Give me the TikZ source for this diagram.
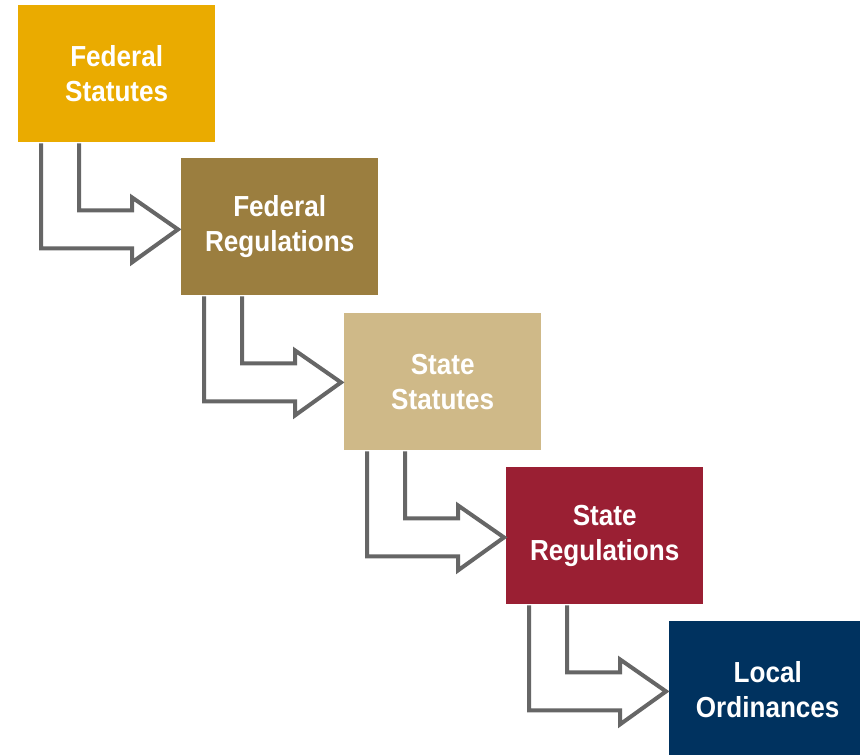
\documentclass[tikz,border=0pt]{standalone}
\usepackage{fontspec}
\setmainfont[FakeStretch=0.9]{Liberation Sans}
\usetikzlibrary{calc}
\definecolor{cgold}{HTML}{EAAB00}
\definecolor{cbrown}{HTML}{9B7E3F}
\definecolor{ctan}{HTML}{CFB988}
\definecolor{cred}{HTML}{9A1F33}
\definecolor{cnavy}{HTML}{00325F}
\definecolor{cgray}{HTML}{666666}
\begin{document}
\begin{tikzpicture}[x=1pt,y=-1pt,
  levelbox/.style={rectangle, anchor=north west, inner sep=0pt,
    minimum width=197pt, minimum height=137pt, text=white, align=center,
    font=\fontsize{29}{35}\selectfont\bfseries},
  bent/.style={draw=cgray, line width=4pt, line join=miter, fill=white}]
\useasboundingbox (0,0) rectangle (860,755);
\clip (0,0) rectangle (860,755);
\node[levelbox, fill=cgold]  (b1) at (18,5)    {Federal\\Statutes};
\node[levelbox, fill=cbrown] (b2) at (181,158) {Federal\\Regulations};
\node[levelbox, fill=ctan]   (b3) at (344,313) {State\\Statutes};
\node[levelbox, fill=cred]   (b4) at (506,467) {State\\Regulations};
\node[levelbox, fill=cnavy]  (b5) at (669,621) {Local\\Ordinances};
\foreach \a in {b1,b2,b3,b4}{
  \draw[bent] ($(\a.south west)+(23,1)$) -- ($(\a.south west)+(23,106)$)
    -- ($(\a.south west)+(114,106)$) -- ($(\a.south west)+(114,120)$)
    -- ($(\a.south west)+(160,87)$) -- ($(\a.south west)+(114,55)$)
    -- ($(\a.south west)+(114,68)$) -- ($(\a.south west)+(61,68)$)
    -- ($(\a.south west)+(61,1)$);
}
\end{tikzpicture}
\end{document}
